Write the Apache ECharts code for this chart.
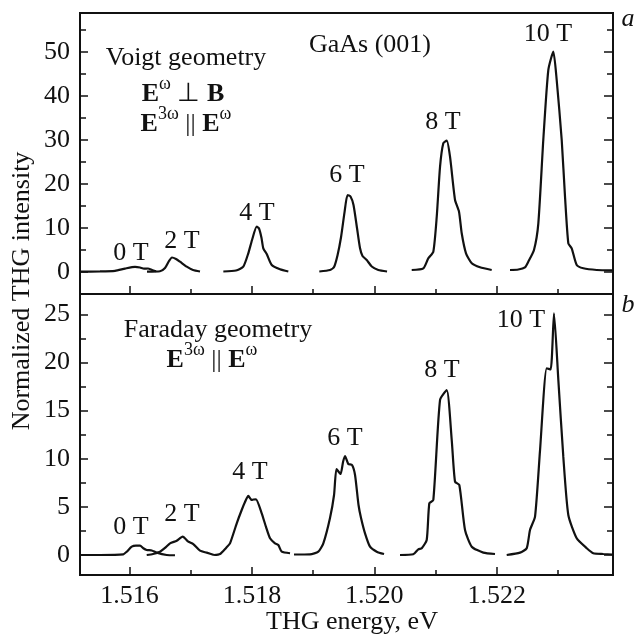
<!DOCTYPE html>
<html><head><meta charset="utf-8">
<script src="https://cdn.jsdelivr.net/npm/echarts@6/dist/echarts.min.js"></script>
<style>html,body{margin:0;padding:0;background:#fff}#c{width:643px;height:639px}</style>
</head><body><div id="c"></div>
<script>
// ---------- axis ticks ----------
const X_MIN = 1.515191, X_MAX = 1.5239;
const X_LABELS = [1.516, 1.518, 1.520, 1.522];
const X_MINOR = [1.517, 1.519, 1.521, 1.523];
const YA_MIN = -5.07, YA_MAX = 58.8;
const YA_LABELS = [0, 10, 20, 30, 40, 50];
const YA_MINOR = [5, 15, 25, 35, 45, 55];
const YB_MIN = -2.08, YB_MAX = 27.11;
const YB_LABELS = [0, 5, 10, 15, 20, 25];
const YB_MINOR = [2.5, 7.5, 12.5, 17.5, 22.5];

// ---------- panel a: Voigt geometry ----------
const vE0 = [1.515191,1.515518,1.515763,1.515926,1.516090,1.516172,1.516237,1.516302,1.516368,1.516433];
const vI0 = [0,0.05,0.2,0.7,1.1,0.95,0.68,0.73,0.39,0.1];
const vE2 = [1.516286,1.516498,1.516580,1.516645,1.516694,1.516760,1.516825,1.516935,1.517038,1.517152];
const vI2 = [0,0.1,0.84,2.43,3.23,2.9,2.27,1.14,0.39,0.05];
const vE4 = [1.517533,1.517740,1.517859,1.517941,1.518002,1.518078,1.518116,1.518157,1.518186,1.518242,1.518324,1.518459,1.518595];
const vI4 = [0.05,0.27,1.14,4.18,7.2,10.23,9.82,7.66,5.32,4.02,1.52,0.55,0.05];
const vE6 = [1.519101,1.519276,1.519342,1.519399,1.519456,1.519513,1.519562,1.519611,1.519660,1.519717,1.519766,1.519807,1.519876,1.519958,1.520065,1.520208];
const vI6 = [0.05,0.39,1.07,3.75,7.84,13.5,17.43,17.1,15.16,9.93,5.39,3.57,2.66,1.18,0.39,0.05];
const vE8 = [1.520611,1.520801,1.520882,1.520964,1.521020,1.521074,1.521127,1.521183,1.521237,1.521319,1.521384,1.521428,1.521498,1.521592,1.521727,1.521918];
const vI8 = [0.39,0.77,3.05,4.55,12.5,23.86,29.18,29.77,26.14,16.3,13.64,8.73,4.18,1.91,1.0,0.39];
const vE10 = [1.522217,1.522353,1.522462,1.522516,1.522609,1.522680,1.522761,1.522843,1.522925,1.522980,1.523062,1.523116,1.523170,1.523225,1.523307,1.523415,1.523634,1.523884];
const vI10 = [0.39,0.5,1.0,2.27,4.93,11.0,29.93,45.84,50.0,43.57,29.93,17.05,6.45,5.32,1.52,0.77,0.39,0.32];

// ---------- panel b: Faraday geometry ----------
const fE0 = [1.515191,1.515518,1.515899,1.515954,1.516036,1.516106,1.516172,1.516225,1.516281,1.516363,1.516444,1.516608,1.516743];
const fI0 = [0,0,0.07,0.34,0.86,0.97,0.97,0.7,0.52,0.47,0.24,0,-0.03];
const fE2 = [1.516281,1.516384,1.516498,1.516580,1.516662,1.516771,1.516869,1.516961,1.517042,1.517152,1.517261,1.517381];
const fI2 = [0,0.1,0.34,0.73,1.21,1.48,1.9,1.38,1.14,0.45,0.24,0];
const fE4 = [1.517381,1.517479,1.517577,1.517642,1.517752,1.517833,1.517887,1.517941,1.517997,1.518026,1.518067,1.518160,1.518230,1.518296,1.518377,1.518431,1.518487,1.518623];
const fI4 = [0,0.1,0.73,1.21,3.29,4.67,5.5,6.13,5.71,5.76,5.78,4.33,2.91,1.73,1.21,1.04,0.34,0.18];
const fE6 = [1.518688,1.518949,1.519085,1.519167,1.519276,1.519342,1.519382,1.519448,1.519489,1.519521,1.519575,1.519636,1.519685,1.519742,1.519783,1.519848,1.519930,1.520039,1.520159];
const fI6 = [0.05,0.07,0.34,1.21,3.84,6.23,8.93,8.41,9.66,10.28,9.45,9.35,8.31,5.19,3.84,2.25,0.86,0.34,0.1];
const fE8 = [1.520420,1.520637,1.520719,1.520775,1.520856,1.520899,1.520964,1.521074,1.521183,1.521265,1.521319,1.521389,1.521482,1.521592,1.521781,1.521972];
const fI8 = [0,0.07,0.59,0.7,1.56,5.37,5.71,16.1,17.13,11.94,7.61,7.27,2.6,0.86,0.24,0.1];
const fE10 = [1.522163,1.522381,1.522490,1.522544,1.522626,1.522708,1.522817,1.522882,1.522936,1.523007,1.523088,1.523170,1.523307,1.523471,1.523578,1.523742,1.523884];
const fI10 = [0,0.24,0.7,2.6,3.98,10.9,19.39,19.28,25.1,18.17,10.21,4.15,1.73,0.7,0.18,0.1,0.05];

// ---------- text ----------
const FONT = 'Liberation Serif';
const INK = '#111';
const FS = 26;

const pts = (E, I) => E.map((e, i) => [e, I[i]]);

function xAxesFor(grid, showLabels) {
  const base = {
    type: 'value', gridIndex: grid, min: X_MIN, max: X_MAX, position: 'bottom',
    axisLine: { show: false, onZero: false }, splitLine: { show: false }
  };
  return [
    Object.assign({}, base, {
      axisTick: { show: true, inside: true, length: 8, customValues: X_LABELS, lineStyle: { color: INK, width: 1.5 } },
      axisLabel: { show: showLabels, customValues: X_LABELS, formatter: v => v.toFixed(3),
        fontFamily: FONT, fontSize: FS, color: INK, margin: 8 }
    }),
    Object.assign({}, base, {
      axisTick: { show: true, inside: true, length: 5, customValues: X_MINOR, lineStyle: { color: INK, width: 1.5 } },
      axisLabel: { show: false }
    })
  ];
}
function yAxesFor(grid, min, max, labels, minor) {
  const base = {
    type: 'value', gridIndex: grid, min: min, max: max,
    axisLine: { show: false, onZero: false }, splitLine: { show: false }
  };
  const tick = (vals, len) => ({ show: true, inside: true, length: len, customValues: vals, lineStyle: { color: INK, width: 1.5 } });
  return [
    Object.assign({}, base, { position: 'left', axisTick: tick(labels, 8),
      axisLabel: { show: true, customValues: labels, fontFamily: FONT, fontSize: FS, color: INK, margin: 10 } }),
    Object.assign({}, base, { position: 'left', axisTick: tick(minor, 6), axisLabel: { show: false } }),
    Object.assign({}, base, { position: 'right', axisTick: tick(labels, 9), axisLabel: { show: false } }),
    Object.assign({}, base, { position: 'right', axisTick: tick(minor, 6), axisLabel: { show: false } })
  ];
}

function line(E, I, grid) {
  return {
    type: 'line', xAxisIndex: grid * 2, yAxisIndex: grid * 4,
    data: pts(E, I), showSymbol: false, smooth: 0.2, silent: true,
    lineStyle: { color: INK, width: 2.2 }
  };
}

function txt(x, y, s, extra) {
  return {
    type: 'text', x: x, y: y, silent: true,
    style: Object.assign({ text: s, fontFamily: FONT, fontSize: FS, fill: INK, align: 'center', verticalAlign: 'middle' }, extra || {})
  };
}
const RICH = {
  b: { fontFamily: FONT, fontSize: FS, fontWeight: 'bold', fill: INK, verticalAlign: 'bottom', lineHeight: 32 },
  n: { fontFamily: FONT, fontSize: FS, fill: INK, verticalAlign: 'bottom', lineHeight: 32 },
  s: { fontFamily: FONT, fontSize: 18, fill: INK, verticalAlign: 'top', lineHeight: 12 }
};
function richTxt(x, y, s) {
  return { type: 'text', x: x, y: y, silent: true,
    style: { text: s, rich: RICH, align: 'center', verticalAlign: 'middle', fontFamily: FONT, fontSize: FS, fill: INK } };
}

const chart = echarts.init(document.getElementById('c'), null, { renderer: 'canvas' });
chart.setOption({
  animation: false,
  backgroundColor: '#fff',
  grid: [
    { left: 80, right: 30, top: 13, height: 281, show: true, borderColor: INK, borderWidth: 2, backgroundColor: 'transparent' },
    { left: 80, right: 30, top: 294, height: 281, show: true, borderColor: INK, borderWidth: 2, backgroundColor: 'transparent' }
  ],
  xAxis: [].concat(xAxesFor(0, false), xAxesFor(1, true)),
  yAxis: [].concat(yAxesFor(0, YA_MIN, YA_MAX, YA_LABELS, YA_MINOR), yAxesFor(1, YB_MIN, YB_MAX, YB_LABELS, YB_MINOR)),
  series: [
    line(vE0, vI0, 0), line(vE2, vI2, 0), line(vE4, vI4, 0), line(vE6, vI6, 0), line(vE8, vI8, 0), line(vE10, vI10, 0),
    line(fE0, fI0, 1), line(fE2, fI2, 1), line(fE4, fI4, 1), line(fE6, fI6, 1), line(fE8, fI8, 1), line(fE10, fI10, 1)
  ],
  graphic: [
    txt(370, 45, 'GaAs (001)'),
    txt(186, 58, 'Voigt geometry'),
    richTxt(183, 91, '{b|E}{s|ω}{n| ⊥ }{b|B}'),
    richTxt(186, 121, '{b|E}{s|3ω}{n| || }{b|E}{s|ω}'),
    txt(131, 253, '0 T'), txt(182, 241, '2 T'), txt(257, 213, '4 T'),
    txt(347, 175, '6 T'), txt(443, 122, '8 T'), txt(548, 34, '10 T'),
    txt(218, 330, 'Faraday geometry'),
    richTxt(212, 357, '{b|E}{s|3ω}{n| || }{b|E}{s|ω}'),
    txt(131, 527, '0 T'), txt(182, 514, '2 T'), txt(250, 472, '4 T'),
    txt(345, 438, '6 T'), txt(442, 370, '8 T'), txt(521, 320, '10 T'),
    txt(628, 19, 'a', { fontStyle: 'italic' }),
    txt(628, 305, 'b', { fontStyle: 'italic' }),
    txt(352, 622, 'THG energy, eV'),
    { type: 'text', x: 22, y: 291, rotation: Math.PI / 2, silent: true,
      style: { text: 'Normalized THG intensity', fontFamily: FONT, fontSize: FS, fill: INK, align: 'center', verticalAlign: 'middle' } }
  ]
});
</script></body></html>
